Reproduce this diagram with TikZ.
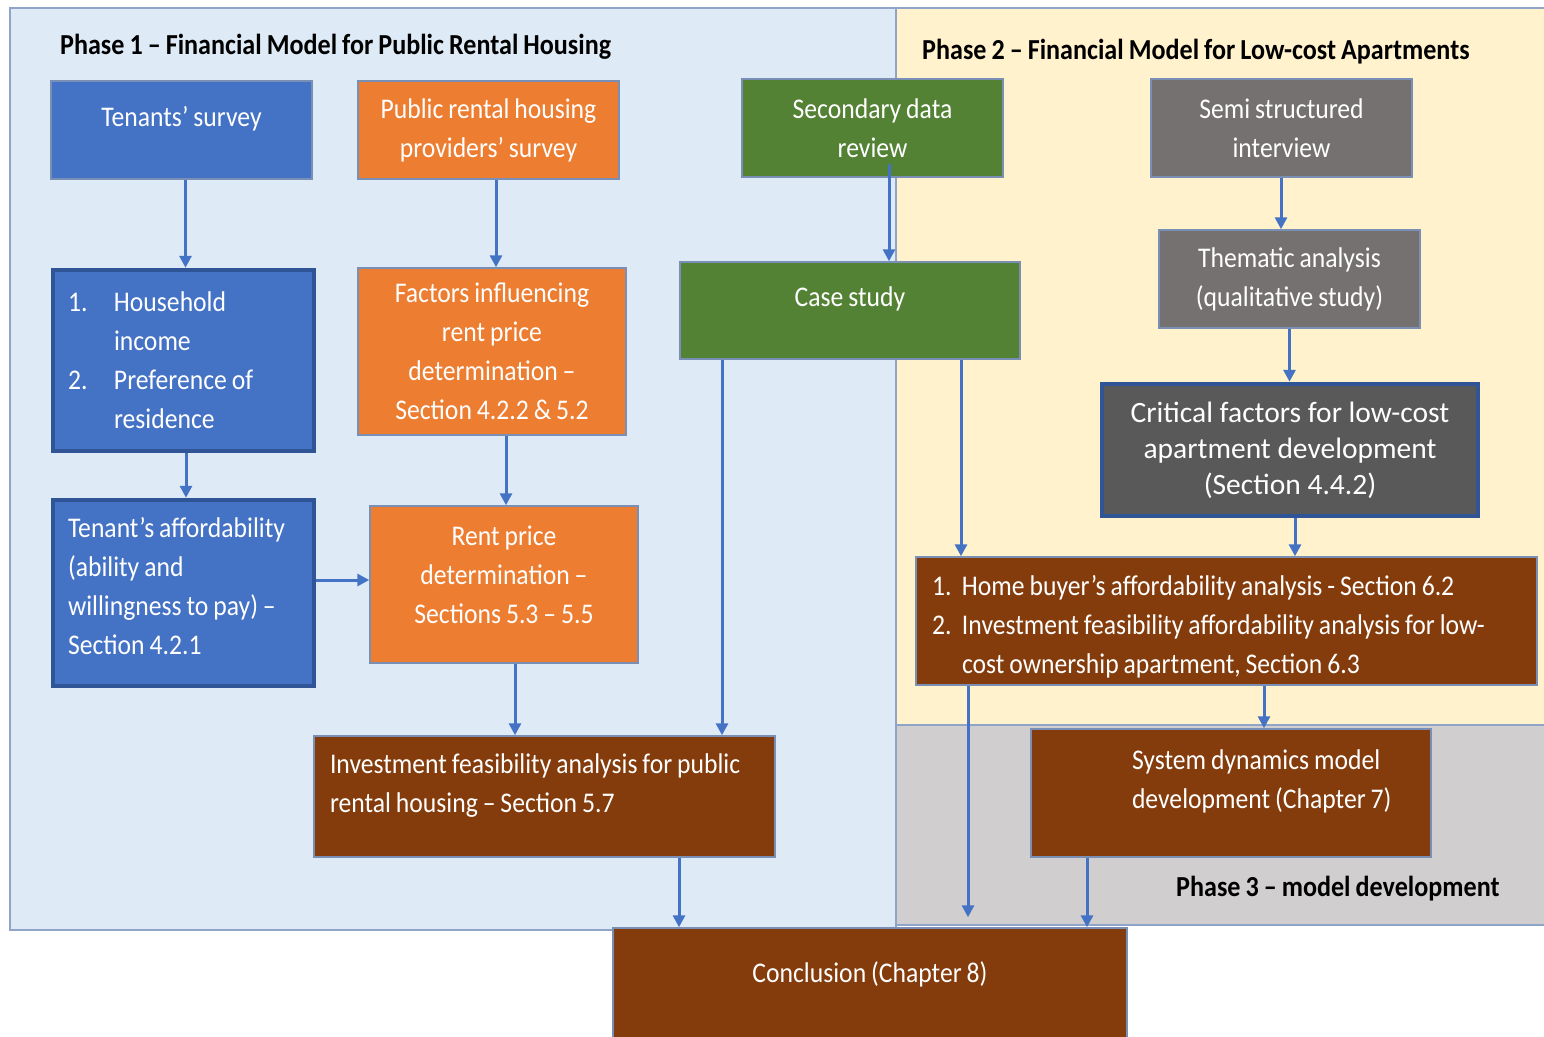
\documentclass[tikz,border=0pt]{standalone}
\usepackage{fontspec}
\setmainfont{Carlito}
\newfontfamily\narrowfont{Carlito}[FakeStretch=0.9,WordSpace=0.85]
\usepackage{tikz}
\usetikzlibrary{arrows.meta,positioning}
\definecolor{phaseone}{HTML}{DEEBF7}
\definecolor{phasetwo}{HTML}{FFF2CC}
\definecolor{phasethree}{HTML}{D0CECE}
\definecolor{panelline}{HTML}{8EA4C8}
\definecolor{edgeline}{HTML}{7A8FB5}
\definecolor{heavyline}{HTML}{2F5597}
\definecolor{tenantblue}{HTML}{4472C4}
\definecolor{rentorange}{HTML}{ED7D31}
\definecolor{casegreen}{HTML}{548235}
\definecolor{interviewgrey}{HTML}{767171}
\definecolor{criticalgrey}{HTML}{595959}
\definecolor{resultbrown}{HTML}{843C0C}
\definecolor{flowblue}{HTML}{4472C4}

\tikzset{
  box/.style={draw=edgeline, line width=1.5pt, text=white, inner sep=0pt,
              font=\narrowfont\fontsize{28.5}{39}\selectfont, align=center},
  heavy/.style={draw=heavyline, line width=4.5pt},
  bluebox/.style={box, fill=tenantblue},
  orangebox/.style={box, fill=rentorange},
  greenbox/.style={box, fill=casegreen},
  greybox/.style={box, fill=interviewgrey},
  brownbox/.style={box, fill=resultbrown},
  flow/.style={draw=flowblue, line width=3pt, -{Triangle[width=12pt,length=12pt]}},
  phasetitle/.style={font=\narrowfont\bfseries\fontsize{29}{32}\selectfont, text=black,
                     inner sep=0pt, anchor=base west}
}

\begin{document}
\begin{tikzpicture}[x=1pt,y=-1pt]
  \useasboundingbox (0,0) rectangle (1544,1036);

  % ── Phase panels ──
  \filldraw[fill=phaseone, draw=panelline, line width=2pt] (10,8) rectangle (896,930);
  \filldraw[fill=phasetwo, draw=panelline, line width=2pt] (896,8) rectangle (1552,725);
  \filldraw[fill=phasethree, draw=panelline, line width=2pt] (896,725) rectangle (1552,925);

  \node[phasetitle] (p1title) at (60,54) {Phase 1 – Financial Model for Public Rental Housing};
  \node[phasetitle] (p2title) at (922,59) {Phase 2 – Financial Model for Low-cost Apartments};
  \node[phasetitle] (p3title) at (1176,896) {Phase 3 – model development};

  % ── Phase 1 boxes ──
  \node[bluebox, minimum width=261, minimum height=98] (ts) at (181.5,130)
       {Tenants’ survey\\[-12pt]\mbox{}};
  \node[orangebox, minimum width=261, minimum height=98] (prs) at (488.5,130)
       {Public rental housing\\providers’ survey};
  \node[bluebox, heavy, minimum width=261, minimum height=181, align=flush left, text width=231] (hh) at (183.5,360.5)
       {\makebox[46pt][l]{1.}Household\\\hspace*{46pt}income\\
        \makebox[46pt][l]{2.}Preference of\\\hspace*{46pt}residence};
  \node[orangebox, minimum width=268, minimum height=167] (fac) at (492,351.5)
       {Factors influencing\\rent price\\determination –\\Section 4.2.2 \& 5.2};
  \node[bluebox, heavy, minimum width=261, minimum height=186, align=flush left, text width=231] (ta) at (183.5,593)
       {Tenant’s affordability\\(ability and\\willingness to pay) –\\Section 4.2.1\\[-24pt]\mbox{}};
  \node[orangebox, minimum width=268, minimum height=157] (rp) at (504,584.5)
       {Rent price\\determination –\\Sections 5.3 – 5.5\\[-20pt]\mbox{}};
  \node[brownbox, minimum width=461, minimum height=121, align=flush left, text width=429] (ifp) at (544.5,796.5)
       {Investment feasibility analysis for public\\rental housing – Section 5.7\\[-12pt]\mbox{}};

  % ── Shared data sources ──
  \node[greenbox, minimum width=261, minimum height=98] (srv) at (872.5,128)
       {Secondary data\\review};
  \node[greenbox, minimum width=340, minimum height=97] (cs) at (850,310.5)
       {Case study\\[-12pt]\mbox{}};

  % ── Phase 2 boxes ──
  \node[greybox, minimum width=261, minimum height=98] (ssi) at (1281.5,128)
       {Semi structured\\interview};
  \node[greybox, minimum width=261, minimum height=98] (tha) at (1289.5,279)
       {Thematic analysis\\(qualitative study)};
  \node[box, heavy, fill=criticalgrey, minimum width=376, minimum height=132,
        font=\fontsize{29.5}{36}\selectfont] (crit) at (1290,450)
       {Critical factors for low-cost\\apartment development\\(Section 4.4.2)};
  \node[brownbox, minimum width=621, minimum height=128, align=flush left, text width=589] (hb) at (1226.5,621)
       {\rule{0pt}{31pt}\makebox[30pt][l]{1.}\mbox{Home buyer’s affordability analysis - Section 6.2}\\
        \makebox[30pt][l]{2.}\mbox{Investment feasibility affordability analysis for low-}\\
        \hspace*{30pt}\mbox{cost ownership apartment, Section 6.3}};

  % ── Phase 3 and conclusion ──
  \node[brownbox, minimum width=400, minimum height=128, align=flush left, text width=330] (sd) at (1231,793)
       {\mbox{\hspace*{66pt}System dynamics model}\\
        \mbox{\hspace*{66pt}development (Chapter 7)}\\[-12pt]\mbox{}};
  \node[brownbox, minimum width=514, minimum height=120] (conc) at (870,988)
       {Conclusion (Chapter 8)\\[-8pt]\mbox{}};

  % ── Flow arrows ──
  \draw[flow] ([xshift=4]ts.south) -- ([xshift=2]hh.north);
  \draw[flow] ([xshift=7.5]prs.south) -- ([xshift=4]fac.north);
  \draw[flow] ([xshift=2.5]hh.south) -- ([xshift=2.5]ta.north);
  \draw[flow] ([xshift=14]fac.south) -- ([xshift=2]rp.north);
  \draw[flow] ([yshift=13]ta.east) -- ([yshift=4.5]rp.west);
  \draw[flow] ([xshift=11]rp.south) -- ([xshift=-29.5]ifp.north);
  \draw[flow] ([xshift=16.5,yshift=14]srv.south) -- ([xshift=39]cs.north);
  \draw[flow] ([xshift=-128]cs.south) -- ([xshift=177.5]ifp.north);
  \draw[flow] ([xshift=111]cs.south) -- ([xshift=-265.5]hb.north);
  \draw[flow] ([xshift=-0.5]ssi.south) -- ([xshift=-8.5]tha.north);
  \draw[flow] (tha.south) -- ([xshift=-0.5]crit.north);
  \draw[flow] ([xshift=5]crit.south) -- ([xshift=68.5]hb.north);
  \draw[flow] ([xshift=37.5]hb.south) -- ([xshift=33]sd.north);
  \draw[flow] ([xshift=-258.5]hb.south) -- ([xshift=98,yshift=10]conc.north);
  \draw[flow] ([xshift=-144]sd.south) -- ([xshift=217]conc.north);
  \draw[flow] ([xshift=134.5]ifp.south) -- ([xshift=-191]conc.north);
\end{tikzpicture}
\end{document}
